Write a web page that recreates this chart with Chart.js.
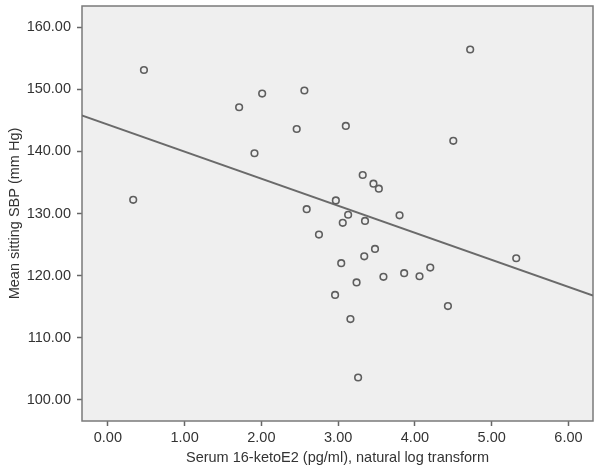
<!DOCTYPE html>
<html>
<head>
<meta charset="utf-8">
<title>Serum 16-ketoE2 vs SBP</title>
<script src="https://cdn.jsdelivr.net/npm/chart.js"></script>
<style>
  html, body { margin: 0; padding: 0; background: #fff; }
  #wrap { width: 600px; height: 469px; }
</style>
</head>
<body>
<div id="wrap"><canvas id="sbpChart"></canvas></div>
<script>
// values
const ketoE2 = [0.33, 0.47, 1.71, 2.01, 1.91, 2.46, 2.56, 3.10, 3.32, 3.46, 3.53,
                2.97, 2.59, 3.13, 3.06, 3.35, 3.80, 2.75, 3.48, 3.34, 3.04, 4.20,
                3.86, 4.06, 3.59, 3.24, 4.43, 2.96, 3.16, 3.26, 4.72, 4.50, 5.32];
const sbp    = [132.2, 153.1, 147.1, 149.3, 139.7, 143.6, 149.8, 144.1, 136.2, 134.8, 134.0,
                132.1, 130.7, 129.8, 128.5, 128.8, 129.7, 126.6, 124.3, 123.1, 122.0, 121.3,
                120.4, 119.9, 119.8, 118.9, 115.1, 116.9, 113.0, 103.6, 156.4, 141.7, 122.8];
// fit line end points
const fitX = [-0.34, 6.32];
const fitY = [145.8, 116.8];
const xTicks = [0, 1, 2, 3, 4, 5, 6];
const yTicks = [100, 110, 120, 130, 140, 150, 160];

const frame = {
    id: 'frame',
    beforeDatasetsDraw(chart) {
        const { ctx, chartArea: a } = chart;
        ctx.save();
        ctx.fillStyle = '#efefef';
        ctx.fillRect(a.left, a.top, a.right - a.left, a.bottom - a.top);
        ctx.strokeStyle = '#7a7a7a';
        ctx.lineWidth = 1.5;
        ctx.strokeRect(a.left, a.top, a.right - a.left, a.bottom - a.top);
        ctx.restore();
    }
};

const font = { family: "'Liberation Sans', Arial, sans-serif", size: 14.5 };

new Chart(document.getElementById('sbpChart'), {
    type: 'scatter',
    data: {
        datasets: [{
            data: ketoE2.map((v, i) => ({ x: v, y: sbp[i] })),
            pointRadius: 3.3,
            pointBorderWidth: 1.6,
            pointBackgroundColor: 'rgba(0,0,0,0)',
            pointBorderColor: '#5e5e5e',
            pointHoverRadius: 3.3
        }, {
            type: 'line',
            data: fitX.map((v, i) => ({ x: v, y: fitY[i] })),
            borderColor: '#6a6a6a',
            borderWidth: 2,
            pointRadius: 0,
            fill: false
        }]
    },
    options: {
        responsive: true,
        maintainAspectRatio: false,
        animation: false,
        events: [],
        layout: { padding: { top: 6, right: 7, left: 0, bottom: 0 } },
        plugins: { legend: { display: false }, tooltip: { enabled: false } },
        scales: {
            x: {
                type: 'linear',
                min: -0.337,
                max: 6.32,
                afterBuildTicks: s => { s.ticks = xTicks.map(v => ({ value: v })); },
                afterFit: s => { s.height = 48; s.paddingLeft = 0; s.paddingRight = 0; },
                grid: { drawOnChartArea: false, tickLength: 5, color: '#666', tickWidth: 1.5 },
                border: { display: false },
                ticks: { font: font, color: '#333', padding: 3, maxRotation: 0,
                         callback: v => v.toFixed(2) },
                title: { display: true, text: 'Serum 16-ketoE2 (pg/ml), natural log transform',
                         font: font, color: '#333', padding: { top: 0, bottom: 2 } }
            },
            y: {
                type: 'linear',
                min: 96.6,
                max: 163.4,
                afterBuildTicks: s => { s.ticks = yTicks.map(v => ({ value: v })); },
                afterFit: s => { s.width = 82; s.paddingTop = 0; s.paddingBottom = 0; },
                grid: { drawOnChartArea: false, tickLength: 5, color: '#666', tickWidth: 1.5 },
                border: { display: false },
                ticks: { font: font, color: '#333', padding: 6,
                         callback: v => v.toFixed(2) },
                title: { display: true, text: 'Mean sitting SBP (mm Hg)',
                         font: font, color: '#333', padding: { top: 6, bottom: 0 } }
            }
        }
    },
    plugins: [frame]
});
</script>
</body>
</html>
